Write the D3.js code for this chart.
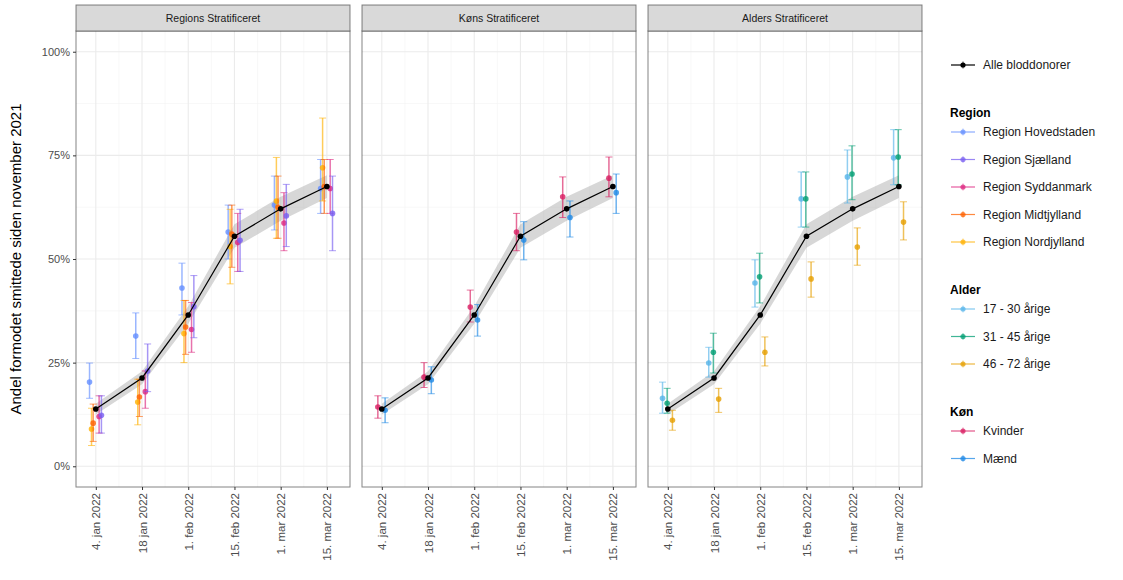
<!DOCTYPE html>
<html><head><meta charset="utf-8">
<script src="https://cdn.jsdelivr.net/npm/d3@7"></script>
<style>body{margin:0;background:#fff}svg{font-family:"Liberation Sans",Arial,sans-serif}</style>
</head><body><svg id="c" width="1123" height="580"></svg>
<script>
// ---- data ----
const dates = ["2022-01-04","2022-01-18","2022-02-01","2022-02-15","2022-03-01","2022-03-15"];
const tickLabels = ["4. jan 2022","18 jan 2022","1. feb 2022","15. feb 2022","1. mar 2022","15. mar 2022"];
const yTicks = [0,25,50,75,100];
const panelTitles = ["Regions Stratificeret","Køns Stratificeret","Alders Stratificeret"];

const alleEst = [13.8,21.3,36.5,55.5,62.1,67.5];
const alleLo  = [12.5,19.8,34.4,52.7,59.2,64.7];
const alleHi  = [15.1,22.9,38.6,58.4,65.0,70.2];

const hovedEst = [20.3,31.4,43.0,56.5,63.0,67.0];
const hovedLo  = [16.4,26.0,36.5,50.0,57.0,61.0];
const hovedHi  = [24.9,37.0,49.0,63.0,70.0,74.0];
const sjaelEst = [12.3,23.0,38.5,54.5,60.4,61.0];
const sjaelLo  = [8.0,18.0,31.0,47.0,53.0,52.0];
const sjaelHi  = [17.0,29.5,46.0,62.0,68.0,70.0];
const syddEst  = [12.0,18.0,33.0,54.0,58.7,67.0];
const syddLo   = [8.0,14.0,27.5,47.0,52.0,61.0];
const syddHi   = [17.0,23.0,39.5,61.0,66.0,74.0];
const midtEst  = [10.4,16.7,33.6,56.0,62.5,67.5];
const midtLo   = [6.0,12.0,27.0,48.0,55.0,61.0];
const midtHi   = [15.0,21.0,40.0,63.0,70.0,74.0];
const nordEst  = [9.0,15.5,32.0,53.0,64.0,72.0];
const nordLo   = [5.0,10.0,25.0,44.0,55.0,64.0];
const nordHi   = [14.0,21.0,40.0,62.0,74.5,84.0];

const kvindEst = [14.3,21.5,38.4,56.5,65.0,69.5];
const kvindLo  = [11.6,19.0,34.8,52.0,60.0,65.0];
const kvindHi  = [17.0,25.0,42.5,61.0,69.8,74.6];
const maendEst = [13.5,20.8,35.3,54.6,60.0,66.0];
const maendLo  = [10.5,17.5,31.4,49.8,55.3,61.0];
const maendHi  = [16.5,24.0,39.0,59.0,64.0,70.5];

const a1730Est = [16.4,24.9,44.2,64.5,69.8,74.4];
const a1730Lo  = [12.8,21.5,38.4,57.7,63.5,67.9];
const a1730Hi  = [20.3,28.7,49.8,71.0,76.3,81.2];
const a3145Est = [15.2,27.5,45.7,64.5,70.5,74.6];
const a3145Lo  = [12.8,22.5,39.4,57.7,64.3,67.9];
const a3145Hi  = [18.8,32.1,51.4,71.0,77.3,81.2];
const a4672Est = [11.1,16.2,27.5,45.2,52.9,58.9];
const a4672Lo  = [8.7,13.0,24.2,40.8,48.5,54.6];
const a4672Hi  = [13.5,18.8,31.2,49.3,57.5,63.8];

// ---- series definitions (styles & dodge kept separate) ----
const panels = [
  [ {name:"Region Hovedstaden", est:hovedEst, lo:hovedLo, hi:hovedHi, color:"#648FFF", dodge:-1.9},
    {name:"Region Nordjylland", est:nordEst, lo:nordLo, hi:nordHi, color:"#FFB000", dodge:-1.3},
    {name:"Region Midtjylland", est:midtEst, lo:midtLo, hi:midtHi, color:"#FE6100", dodge:-0.8},
    {name:"Region Syddanmark", est:syddEst, lo:syddLo, hi:syddHi, color:"#DC267F", dodge:1.0},
    {name:"Region Sjælland", est:sjaelEst, lo:sjaelLo, hi:sjaelHi, color:"#785EF0", dodge:1.7} ],
  [ {name:"Kvinder", est:kvindEst, lo:kvindLo, hi:kvindHi, color:"#D81B60", dodge:-1.2},
    {name:"Mænd", est:maendEst, lo:maendLo, hi:maendHi, color:"#1E88E5", dodge:1.0} ],
  [ {name:"17 - 30 årige", est:a1730Est, lo:a1730Lo, hi:a1730Hi, color:"#56B4E9", dodge:-1.6},
    {name:"31 - 45 årige", est:a3145Est, lo:a3145Lo, hi:a3145Hi, color:"#009E73", dodge:-0.2},
    {name:"46 - 72 årige", est:a4672Est, lo:a4672Lo, hi:a4672Hi, color:"#E69F00", dodge:1.4} ]
];
const regionOrder = ["Region Hovedstaden","Region Sjælland","Region Syddanmark","Region Midtjylland","Region Nordjylland"];

const svg = d3.select("#c");
const parse = d3.utcParse("%Y-%m-%d");
const dts = dates.map(parse);
const panelX = [76, 362, 648], panelW = 274;
const plotTop = 31, plotBottom = 487, stripTop = 5;
const y = d3.scaleLinear().domain([-5, 105]).range([plotBottom, plotTop]);
const dayMs = 86400000;
const xDomain = [parse("2021-12-29"), parse("2022-03-22")];

panels.forEach((series, pi) => {
  const x0 = panelX[pi];
  const x = d3.scaleUtc().domain(xDomain).range([x0, x0 + panelW]);
  const g = svg.append("g");
  g.append("rect").attr("x", x0).attr("y", plotTop).attr("width", panelW).attr("height", plotBottom - plotTop).attr("fill", "#fff");
  const minorY = [12.5, 37.5, 62.5, 87.5];
  g.selectAll(".gmy").data(minorY).join("line").attr("x1", x0).attr("x2", x0 + panelW)
    .attr("y1", d => y(d)).attr("y2", d => y(d)).attr("stroke", "#f3f3f3").attr("stroke-width", 0.6);
  const minorX = dts.slice(0, -1).map(d => new Date(+d + 7 * dayMs));
  g.selectAll(".gmx").data(minorX).join("line").attr("y1", plotTop).attr("y2", plotBottom)
    .attr("x1", d => x(d)).attr("x2", d => x(d)).attr("stroke", "#f3f3f3").attr("stroke-width", 0.6);
  g.selectAll(".gy").data(yTicks).join("line").attr("x1", x0).attr("x2", x0 + panelW)
    .attr("y1", d => y(d)).attr("y2", d => y(d)).attr("stroke", "#ebebeb").attr("stroke-width", 1.1);
  g.selectAll(".gx").data(dts).join("line").attr("y1", plotTop).attr("y2", plotBottom)
    .attr("x1", d => x(d)).attr("x2", d => x(d)).attr("stroke", "#ebebeb").attr("stroke-width", 1.1);

  const area = d3.area().x((d, i) => x(dts[i])).y0((d, i) => y(alleLo[i])).y1((d, i) => y(alleHi[i]));
  g.append("path").attr("d", area(alleEst)).attr("fill", "#a6a6a6").attr("fill-opacity", 0.45);

  series.forEach(s => {
    const xs = dts.map(d => x(new Date(+d + s.dodge * dayMs)));
    const sg = g.append("g");
    sg.selectAll(".eb").data(s.est).join("line").attr("x1", (d, i) => xs[i]).attr("x2", (d, i) => xs[i])
      .attr("y1", (d, i) => y(s.lo[i])).attr("y2", (d, i) => y(s.hi[i])).attr("stroke", s.color)
      .attr("stroke-width", 1.5).attr("stroke-opacity", 0.65);
    ["lo", "hi"].forEach(k => {
      sg.selectAll(".cap" + k).data(s.est).join("line").attr("class", "cap" + k)
        .attr("x1", (d, i) => xs[i] - 3.5).attr("x2", (d, i) => xs[i] + 3.5)
        .attr("y1", (d, i) => y(s[k][i])).attr("y2", (d, i) => y(s[k][i])).attr("stroke", s.color)
        .attr("stroke-width", 1).attr("stroke-opacity", 0.6);
    });
    sg.selectAll("circle").data(s.est).join("circle").attr("cx", (d, i) => xs[i]).attr("cy", d => y(d))
      .attr("r", 2.8).attr("fill", s.color).attr("fill-opacity", 0.8);
  });

  const line = d3.line().x((d, i) => x(dts[i])).y(d => y(d));
  g.append("path").attr("d", line(alleEst)).attr("fill", "none").attr("stroke", "#000").attr("stroke-width", 1.2);
  g.selectAll(".ap").data(alleEst).join("circle").attr("cx", (d, i) => x(dts[i])).attr("cy", d => y(d))
    .attr("r", 2.8).attr("fill", "#000");

  g.append("rect").attr("x", x0).attr("y", plotTop).attr("width", panelW).attr("height", plotBottom - plotTop)
    .attr("fill", "none").attr("stroke", "#333").attr("stroke-width", 1).attr("stroke-opacity", 0.6);
  g.append("rect").attr("x", x0).attr("y", stripTop).attr("width", panelW).attr("height", plotTop - stripTop)
    .attr("fill", "#d9d9d9").attr("stroke", "#333").attr("stroke-opacity", 0.6).attr("stroke-width", 1);
  g.append("text").attr("x", x0 + panelW / 2).attr("y", (stripTop + plotTop) / 2 + 4).attr("text-anchor", "middle")
    .attr("font-size", 10.5).attr("fill", "#1a1a1a").text(panelTitles[pi]);

  const xAxis = d3.axisBottom(x).tickValues(dts).tickSize(3).tickPadding(4)
    .tickFormat((d, i) => tickLabels[i]);
  const ax = g.append("g").attr("transform", `translate(0,${plotBottom})`).call(xAxis);
  ax.select(".domain").remove();
  ax.selectAll(".tick line").attr("stroke", "#333");
  ax.selectAll(".tick text").attr("fill", "#4d4d4d").attr("font-size", 11.5)
    .attr("transform", "rotate(-90)").attr("text-anchor", "end").attr("x", -6).attr("y", 0).attr("dy", "0.35em");

  if (pi === 0) {
    const yAxis = d3.axisLeft(y).tickValues(yTicks).tickSize(3).tickPadding(3).tickFormat(d => d + "%");
    const ay = g.append("g").attr("transform", `translate(${x0},0)`).call(yAxis);
    ay.select(".domain").remove();
    ay.selectAll(".tick line").attr("stroke", "#333");
    ay.selectAll(".tick text").attr("fill", "#4d4d4d").attr("font-size", 11);
  }
});

svg.append("text").attr("transform", `translate(21,${(plotTop + plotBottom) / 2}) rotate(-90)`).attr("text-anchor", "middle")
  .attr("font-size", 15).attr("fill", "#000").text("Andel formodet smittede siden november 2021");

const legendGroups = [
  {title: null, items: [{name: "Alle bloddonorer", color: "#000"}], y0: 65},
  {title: "Region", items: panels[0].slice().sort((a, b) => regionOrder.indexOf(a.name) - regionOrder.indexOf(b.name)), y0: 113},
  {title: "Alder", items: panels[2], y0: 290},
  {title: "Køn", items: panels[1], y0: 412}
];
const lg = svg.append("g");
legendGroups.forEach(grp => {
  let yy = grp.y0;
  if (grp.title) {
    lg.append("text").attr("x", 950).attr("y", yy + 4).attr("font-size", 12).attr("font-weight", "bold").text(grp.title);
    yy += 19;
  }
  grp.items.forEach((it, i) => {
    const cy = yy + i * 27.5;
    const a = grp.title ? 0.75 : 1;
    lg.append("line").attr("x1", 951).attr("x2", 975).attr("y1", cy).attr("y2", cy).attr("stroke", it.color)
      .attr("stroke-width", 1.2).attr("stroke-opacity", a);
    lg.append("line").attr("x1", 963).attr("x2", 963).attr("y1", cy - 3.5).attr("y2", cy + 3.5).attr("stroke", it.color)
      .attr("stroke-width", 1).attr("stroke-opacity", a * 0.7);
    lg.append("circle").attr("cx", 963).attr("cy", cy).attr("r", 2.6).attr("fill", it.color).attr("fill-opacity", a);
    lg.append("text").attr("x", 983).attr("y", cy + 4).attr("font-size", 12).attr("fill", "#1a1a1a").text(it.name);
  });
});
</script></body></html>
